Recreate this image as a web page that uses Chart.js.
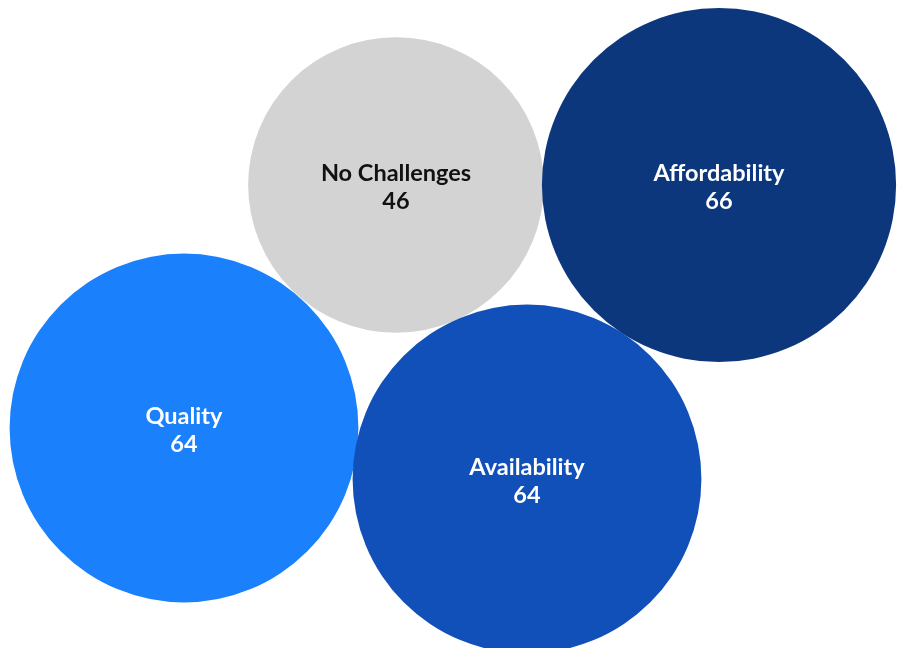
<!DOCTYPE html>
<html>
<head>
<meta charset="utf-8">
<script src="https://cdn.jsdelivr.net/npm/chart.js@4/dist/chart.umd.min.js"></script>
<style>
  html, body { margin: 0; padding: 0; background: #ffffff; }
  #wrap { width: 903px; height: 648px; }
</style>
</head>
<body>
<div id="wrap"><canvas id="bubbles" width="903" height="648"></canvas></div>
<script>
// data
const categories = ['No Challenges', 'Affordability', 'Quality', 'Availability'];
const values = [46, 66, 64, 64];
// packed layout centres (in plot units)
const centerX = [396, 719, 184, 527];
const centerY = [185, 185, 428, 479];
const colors = ['#d3d3d3', '#0c377c', '#1b80fb', '#1150b8'];
const textColors = ['#111111', '#ffffff', '#ffffff', '#ffffff'];

const radiusPerSqrt = 21.8;

const labelPlugin = {
    id: 'bubbleLabels',
    afterDatasetsDraw(chart) {
        const ctx = chart.ctx;
        const meta = chart.getDatasetMeta(0);
        ctx.save();
        ctx.textAlign = 'center';
        ctx.textBaseline = 'middle';
        ctx.font = 'bold 23.5px Lato';
        meta.data.forEach((pt, i) => {
            ctx.fillStyle = textColors[i];
            ctx.fillText(categories[i], pt.x, pt.y - 12);
            ctx.fillText(String(values[i]), pt.x, pt.y + 16);
        });
        ctx.restore();
    }
};

const chart = new Chart(document.querySelector('#bubbles'), {
    type: 'bubble',
    data: {
        labels: categories,
        datasets: [{
            data: categories.map((c, i) => ({ x: centerX[i], y: centerY[i], v: values[i] })),
            backgroundColor: colors,
            borderWidth: 0,
            radius: (c) => radiusPerSqrt * Math.sqrt(values[c.dataIndex]),
            hoverRadius: 0,
            clip: false
        }]
    },
    plugins: [labelPlugin],
    options: {
        responsive: false,
        animation: false,
        layout: { padding: 0, autoPadding: false },
        plugins: { legend: { display: false }, tooltip: { enabled: false } },
        scales: {
            x: { display: false, min: 0, max: 903 },
            y: { display: false, min: 0, max: 648, reverse: true }
        }
    }
});
</script>
</body>
</html>
